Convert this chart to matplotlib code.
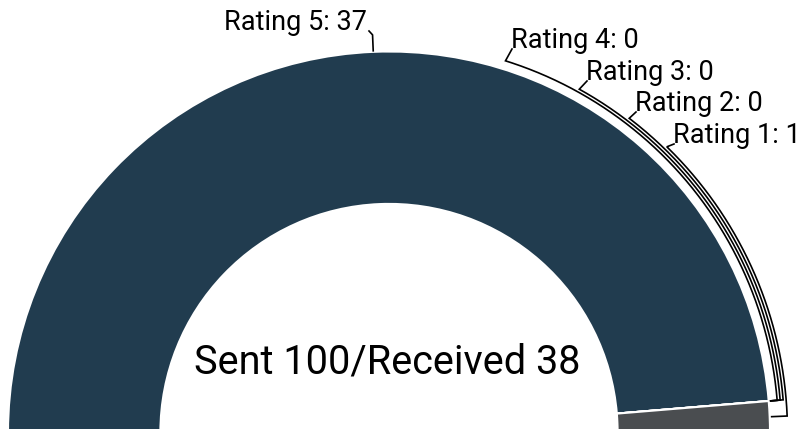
import numpy as np
import matplotlib.pyplot as plt

labels = ["Rating 5", "Rating 4", "Rating 3", "Rating 2", "Rating 1"]
counts = [37, 0, 0, 0, 1]
colors = ["#213c4f", "#213c4f", "#213c4f", "#213c4f", "#4a4d50"]
sent = 100
received = sum(counts)

plt.rcParams['font.family'] = ['Roboto', 'DejaVu Sans']

fig = plt.figure(figsize=(8, 4.29), dpi=100)
ax = fig.add_axes([0, 0, 1, 1])

H = 429
cx, cy = 389, H - 432.5
R = 381

# half donut: hidden slice of the same total fills the lower half
wedges, _ = ax.pie(counts + [received], colors=colors + ["none"],
                   startangle=180, counterclock=False, radius=R, center=(cx, cy),
                   wedgeprops=dict(width=R * 0.4, edgecolor="white", linewidth=1.5))
wedges[-1].set_visible(False)

ax.set_xlim(0, 800)
ax.set_ylim(0, H)
ax.set_aspect("equal")
ax.axis("off")


def pt(r, a):
    t = np.radians(a)
    return cx + r * np.cos(t), cy + r * np.sin(t)


def mid(w):
    return (w.theta1 + w.theta2) / 2


fs = 19.5

# Rating 5 label
m = mid(wedges[0])
x0, y0 = pt(R + 1, m)
x1, y1 = pt(R + 17, m)
ax.plot([x0, x1, 369], [y0, y1, H - 31], color="black", lw=1.2)
ax.text(367, H - 30, f"{labels[0]}: {counts[0]}", ha="right", va="baseline", fontsize=fs)

# stacked labels on the right, leader lines follow the outer edge
lab_ang = [72.6, 61.0, 52.6, 45.8]
lab_r = [389.5, 392.5, 395.5, 398.5]
lab_xy = [(511, 48), (586, 80), (635, 111), (673, 143)]
for i in range(1, 5):
    w = wedges[i]
    a0 = mid(w)
    r = lab_r[i - 1]
    a1 = lab_ang[i - 1]
    tx, ty = lab_xy[i - 1]
    sx, sy = pt(R + 2, a0)
    ex, ey = pt(r, a0)
    arc = np.linspace(a0, a1, 200)
    ax_, ay_ = pt(r, arc)
    xs = np.concatenate([[sx, ex], ax_, [tx + 1]])
    ys = np.concatenate([[sy, ey], ay_, [H - ty - 1]])
    ax.plot(xs, ys, color="black", lw=1.2, solid_joinstyle="miter")
    ax.text(tx, H - ty, f"{labels[i]}: {counts[i]}", ha="left", va="baseline", fontsize=fs)

ax.text(387.5, H - 373, f"Sent {sent}/Received {received}", ha="center", va="baseline",
        fontsize=28.5)

fig.savefig("out.png", dpi=100)
